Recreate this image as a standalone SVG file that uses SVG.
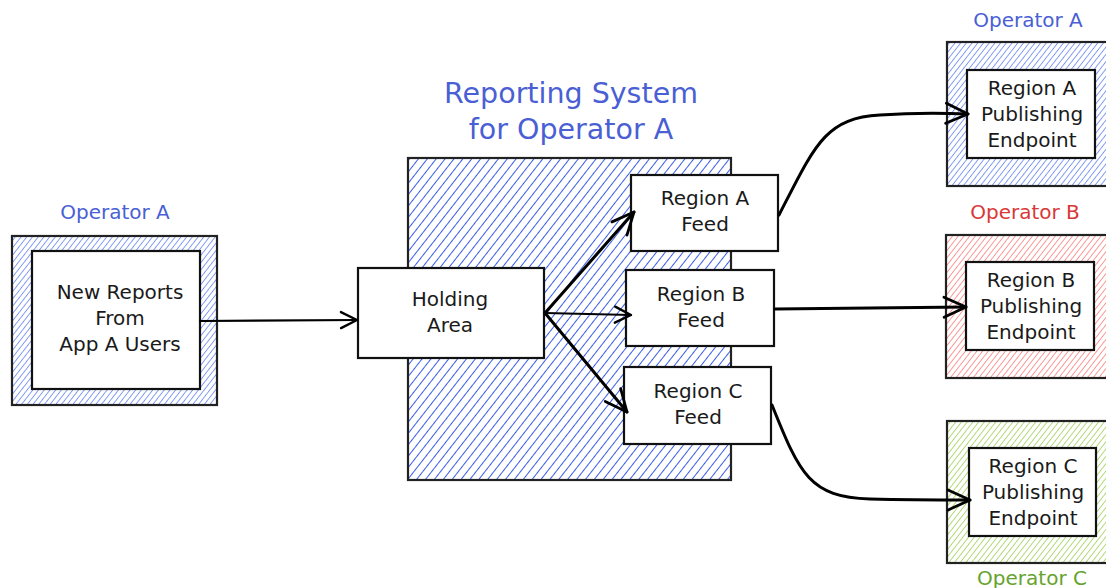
<svg xmlns="http://www.w3.org/2000/svg" width="1106" height="588" viewBox="0 0 1106 588">
  <defs>
    <pattern id="hatchBlue" patternUnits="userSpaceOnUse" width="7" height="7" patternTransform="rotate(38)">
      <line x1="0" y1="0" x2="0" y2="7" stroke="#3a5ee6" stroke-width="2"/>
    </pattern>
    <pattern id="hatchBlueFine" patternUnits="userSpaceOnUse" width="4.5" height="4.5" patternTransform="rotate(38)">
      <line x1="0" y1="0" x2="0" y2="4.5" stroke="#5576ee" stroke-width="1.4"/>
    </pattern>
    <pattern id="hatchRed" patternUnits="userSpaceOnUse" width="4.5" height="4.5" patternTransform="rotate(38)">
      <line x1="0" y1="0" x2="0" y2="4.5" stroke="#fa7070" stroke-width="1.4"/>
    </pattern>
    <pattern id="hatchGreen" patternUnits="userSpaceOnUse" width="4.5" height="4.5" patternTransform="rotate(38)">
      <line x1="0" y1="0" x2="0" y2="4.5" stroke="#94cc45" stroke-width="1.4"/>
    </pattern>
    <marker id="arrow" viewBox="0 0 20 20" refX="18" refY="10" markerWidth="20" markerHeight="20" markerUnits="userSpaceOnUse" orient="auto">
      <path d="M2 2 L18 10 L2 18" fill="none" stroke="#000" stroke-width="2.4" stroke-linecap="round" stroke-linejoin="round"/>
    </marker>
    <marker id="arrowBig" viewBox="0 0 26 26" refX="24" refY="13" markerWidth="26" markerHeight="26" markerUnits="userSpaceOnUse" orient="auto">
      <path d="M2 3 L24 13 L2 23" fill="none" stroke="#000" stroke-width="2.8" stroke-linecap="round" stroke-linejoin="round"/>
    </marker>
  </defs>
  <style>
    .box { fill: #fff; stroke: #111; stroke-width: 2.2; }
    .frame { stroke: #222; stroke-width: 2.2; }
    .txt { font-family: "DejaVu Sans", "Liberation Sans", sans-serif; font-size: 20px; fill: #1a1a1a; text-anchor: middle; }
    .lbl { font-family: "DejaVu Sans", "Liberation Sans", sans-serif; font-size: 20px; text-anchor: middle; }
    .title { font-family: "DejaVu Sans", "Liberation Sans", sans-serif; font-size: 28.5px; fill: #4a5fd4; text-anchor: middle; }
    .conn { fill: none; stroke: #000; stroke-width: 2.2; stroke-linecap: round; }
    .conn-thick { fill: none; stroke: #000; stroke-width: 3; stroke-linecap: round; }
  </style>

  <!-- reporting system container -->
  <g id="reporting-system">
    <text class="title" x="571" y="103">Reporting System</text>
    <text class="title" x="571" y="139">for Operator A</text>
    <rect x="408" y="158" width="323" height="322" fill="url(#hatchBlue)" class="frame"/>
  </g>

  <!-- source -->
  <g id="source">
    <text class="lbl" x="115" y="219" fill="#4a5fd4">Operator A</text>
    <rect x="12" y="236" width="205" height="169" fill="url(#hatchBlueFine)" class="frame"/>
    <rect x="32" y="251" width="168" height="138" class="box"/>
    <text class="txt" x="120" y="299">New Reports</text>
    <text class="txt" x="120" y="325">From</text>
    <text class="txt" x="120" y="351">App A Users</text>
  </g>

  <g id="holding-area">
    <rect x="358" y="268" width="186" height="90" class="box"/>
    <text class="txt" x="450" y="306">Holding</text>
    <text class="txt" x="450" y="332">Area</text>
  </g>

  <g id="region-a-feed">
    <rect x="631" y="175" width="147" height="76" class="box"/>
    <text class="txt" x="705" y="205">Region A</text>
    <text class="txt" x="705" y="231">Feed</text>
  </g>

  <g id="region-b-feed">
    <rect x="626" y="270" width="148" height="76" class="box"/>
    <text class="txt" x="701" y="301">Region B</text>
    <text class="txt" x="701" y="327">Feed</text>
  </g>

  <g id="region-c-feed">
    <rect x="624" y="367" width="147" height="77" class="box"/>
    <text class="txt" x="698" y="398">Region C</text>
    <text class="txt" x="698" y="424">Feed</text>
  </g>

  <g id="endpoint-a">
    <text class="lbl" x="1028" y="27" fill="#4a5fd4">Operator A</text>
    <rect x="947" y="42" width="165" height="144" fill="url(#hatchBlueFine)" class="frame"/>
    <rect x="967" y="70" width="128" height="88" class="box"/>
    <text class="txt" x="1032" y="95">Region A</text>
    <text class="txt" x="1032" y="121">Publishing</text>
    <text class="txt" x="1032" y="147">Endpoint</text>
  </g>

  <g id="endpoint-b">
    <text class="lbl" x="1025" y="219" fill="#d93838">Operator B</text>
    <rect x="946" y="235" width="166" height="143" fill="url(#hatchRed)" class="frame"/>
    <rect x="966" y="262" width="128" height="88" class="box"/>
    <text class="txt" x="1031" y="287">Region B</text>
    <text class="txt" x="1031" y="313">Publishing</text>
    <text class="txt" x="1031" y="339">Endpoint</text>
  </g>

  <g id="endpoint-c">
    <rect x="947" y="421" width="165" height="142" fill="url(#hatchGreen)" class="frame"/>
    <rect x="969" y="448" width="127" height="88" class="box"/>
    <text class="txt" x="1033" y="473">Region C</text>
    <text class="txt" x="1033" y="499">Publishing</text>
    <text class="txt" x="1033" y="525">Endpoint</text>
    <text class="lbl" x="1032" y="585" fill="#66a32e">Operator C</text>
  </g>

  <!-- connectors -->
  <g id="connectors">
    <path class="conn" d="M200 321 L357 320" marker-end="url(#arrow)"/>
    <path class="conn-thick" d="M545 313 L634 212" marker-end="url(#arrowBig)"/>
    <path class="conn" d="M545 313 L631 315" marker-end="url(#arrow)"/>
    <path class="conn-thick" d="M545 313 L627 412" marker-end="url(#arrowBig)"/>
    <path class="conn-thick" d="M779 215 C815 145, 825 118, 880 115 C910 113, 940 113, 968 114" marker-end="url(#arrowBig)"/>
    <path class="conn-thick" d="M775 309 L966 307" marker-end="url(#arrowBig)"/>
    <path class="conn-thick" d="M772 405 C800 475, 810 497, 870 499 C910 500, 940 500, 970 500" marker-end="url(#arrowBig)"/>
  </g>
</svg>
